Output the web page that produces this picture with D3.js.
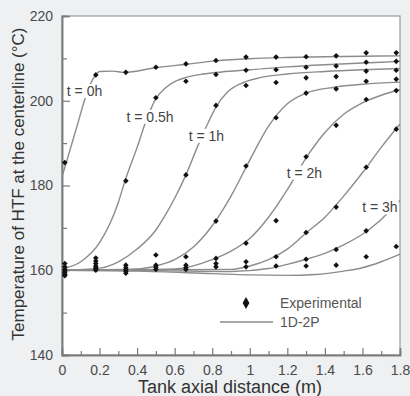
<!DOCTYPE html>
<html>
<head>
<meta charset="utf-8">
<script src="https://cdn.jsdelivr.net/npm/d3@7"></script>
<style>
  body { margin: 0; background: #eef0f2; }
  svg { display: block; font-family: "Liberation Sans", Arial, sans-serif; }
</style>
</head>
<body>
<div id="chart"></div>
<script>
// x positions of the thermocouples (m)
var expX = [0.015, 0.18, 0.34, 0.50, 0.66, 0.82, 0.98, 1.14, 1.30, 1.46, 1.62, 1.78];
// measured temperatures per position (all times together)
var expT = [
  [185.4, 161.6, 160.8, 160.2, 159.8, 159.4, 159.0, 158.7],
  [206.1, 162.9, 162.2, 161.6, 161.0, 160.6, 160.3, 160.0],
  [206.7, 181.1, 161.2, 160.6, 160.1, 159.7, 159.3],
  [207.9, 200.7, 163.6, 161.2, 160.7, 160.2],
  [208.7, 204.6, 182.5, 163.2, 161.2, 160.6, 160.2],
  [209.5, 206.2, 198.9, 171.6, 162.8, 161.6, 160.8],
  [210.3, 207.2, 203.6, 184.6, 166.4, 162.0, 160.8],
  [210.3, 207.3, 204.3, 196.0, 171.7, 163.2, 161.0],
  [210.4, 207.9, 205.4, 201.8, 186.8, 168.9, 162.6, 161.0],
  [210.6, 208.2, 205.7, 202.8, 194.2, 174.9, 164.9, 161.2],
  [211.3, 209.1, 207.0, 204.6, 200.3, 184.3, 169.3, 163.2],
  [211.3, 209.3, 207.2, 205.1, 202.4, 193.3, 165.6]
];

// 1D-2P model curves [x, T]
var model_0h = [[0, 182], [0.03, 186.5], [0.08, 194], [0.13, 201.5], [0.17, 205.5], [0.2, 206.9], [0.27, 207], [0.33, 206.7], [0.5, 207.8], [0.66, 208.6], [0.82, 209.4], [1.0, 209.9], [1.2, 210.2], [1.4, 210.4], [1.6, 210.5], [1.8, 210.6]];
var model_05h = [[0, 160.3], [0.1, 162], [0.2, 166.5], [0.3, 176], [0.335, 181], [0.4, 189], [0.45, 195.5], [0.5, 200.5], [0.55, 203], [0.6, 204.5], [0.66, 205.5], [0.75, 206.3], [0.85, 206.8], [1.0, 207.3], [1.2, 208], [1.4, 208.5], [1.6, 208.9], [1.8, 209.3]];
var model_1h = [[0, 160], [0.2, 160.5], [0.3, 162], [0.4, 165], [0.5, 169.5], [0.55, 173], [0.6, 177], [0.66, 182.5], [0.72, 189], [0.78, 195], [0.82, 198.5], [0.88, 202], [0.95, 204], [1.05, 205.4], [1.2, 206.3], [1.4, 206.9], [1.6, 207.3], [1.8, 207.6]];
var model_15h = [[0, 160], [0.4, 160.3], [0.5, 161], [0.6, 162.5], [0.7, 165.5], [0.8, 170.5], [0.9, 177.5], [1.0, 186], [1.1, 194], [1.2, 199.3], [1.3, 201.8], [1.45, 203.2], [1.6, 203.9], [1.8, 204.4]];
var model_2h = [[0, 160], [0.6, 160.3], [0.8, 162.5], [0.9, 164.5], [1.0, 167.5], [1.1, 172.5], [1.2, 179], [1.3, 186.5], [1.4, 192.5], [1.5, 196.8], [1.6, 199.5], [1.7, 201.3], [1.8, 202.6]];
var model_25h = [[0, 160], [0.9, 160.2], [1.0, 161], [1.1, 162.5], [1.2, 165], [1.3, 168.8], [1.4, 172.5], [1.5, 177.5], [1.6, 183], [1.7, 189], [1.8, 194.5]];
var model_3h = [[0, 160], [0.5, 159.9], [0.9, 159.7], [1.1, 160.4], [1.2, 161.4], [1.3, 162.6], [1.4, 164], [1.5, 166], [1.6, 168.5], [1.7, 172], [1.8, 176.5]];
var model_35h = [[0, 160], [0.4, 159.8], [0.8, 159.2], [1.0, 158.9], [1.2, 158.8], [1.35, 159], [1.5, 159.8], [1.6, 160.6], [1.7, 162], [1.8, 163.8]];
var models = [model_0h, model_05h, model_1h, model_15h, model_2h, model_25h, model_3h, model_35h];

// curve labels (text, x, T of label centre)
var curveLabels = [
  ["t = 0h", 0.12, 202.3],
  ["t = 0.5h", 0.469, 196.2],
  ["t = 1h", 0.769, 191.7],
  ["t = 2h", 1.291, 183.0],
  ["t = 3h", 1.693, 174.8]
];

var xTicks = [0, 0.2, 0.4, 0.6, 0.8, 1, 1.2, 1.4, 1.6, 1.8];
var xMinor = [0.1, 0.3, 0.5, 0.7, 0.9, 1.1, 1.3, 1.5, 1.7];
var yTicks = [140, 160, 180, 200, 220];
var yMinor = [150, 170, 190, 210];

var margin = { top: 16, right: 10, bottom: 41, left: 62 },
  width = 410 - margin.left - margin.right,
  height = 396 - margin.top - margin.bottom;

var svg = d3.select("#chart")
  .append("svg")
  .attr("width", 410)
  .attr("height", 396);

var g = svg.append("g")
  .attr("transform", "translate(" + margin.left + "," + margin.top + ")");

var x = d3.scaleLinear().domain([0, 1.8]).range([0, width]);
var y = d3.scaleLinear().domain([140, 220]).range([height, 0]);

var axisColor = "#7a7a7a";

// plot background + frame
g.append("rect")
  .attr("width", width).attr("height", height)
  .attr("fill", "#fff")
  .attr("stroke", "#9a9a9a").attr("stroke-width", 1.2);

// axes (ticks pointing inwards)
var xAxis = g.append("g")
  .attr("transform", "translate(0," + height + ")")
  .call(d3.axisBottom(x).tickValues(xTicks).tickFormat(d3.format("~g")).tickSize(-7).tickPadding(10));
var xAxisMinor = g.append("g")
  .attr("transform", "translate(0," + height + ")")
  .call(d3.axisBottom(x).tickValues(xMinor).tickFormat("").tickSize(-4));
var yAxis = g.append("g")
  .call(d3.axisLeft(y).tickValues(yTicks).tickSize(-8).tickPadding(9));
var yAxisMinor = g.append("g")
  .call(d3.axisLeft(y).tickValues(yMinor).tickFormat("").tickSize(-5));

[xAxis, xAxisMinor, yAxis, yAxisMinor].forEach(function (a) {
  a.select(".domain").attr("stroke", axisColor).attr("stroke-width", 1.5);
  a.selectAll(".tick line").attr("stroke", axisColor).attr("stroke-width", 1.2);
  a.selectAll("text").attr("fill", "#4a4a4a").style("font-size", "14px")
    .style("font-family", "'Liberation Sans', Arial, sans-serif");
});

// model lines
var line = d3.line()
  .x(function (d) { return x(d[0]); })
  .y(function (d) { return y(d[1]); })
  .curve(d3.curveMonotoneX);

g.append("g").selectAll("path")
  .data(models)
  .enter().append("path")
  .attr("d", line)
  .attr("fill", "none")
  .attr("stroke", "#8c8c8c")
  .attr("stroke-width", 1.4);

// curve labels on white boxes
curveLabels.forEach(function (l) {
  var t = g.append("text")
    .attr("x", x(l[1])).attr("y", y(l[2]))
    .attr("text-anchor", "middle")
    .attr("dy", "0.35em")
    .attr("fill", "#444")
    .style("font-size", "14px")
    .text(l[0]);
  var b = t.node().getBBox();
  g.insert("rect", function () { return t.node(); })
    .attr("x", b.x - 1).attr("y", b.y + 1)
    .attr("width", b.width + 2).attr("height", b.height - 2)
    .attr("fill", "#fff");
});

// experimental points
var pts = [];
expX.forEach(function (xv, i) {
  expT[i].forEach(function (tv) { pts.push([xv, tv]); });
});
var diamond = d3.symbol().type(d3.symbolDiamond2).size(20);
g.append("g").selectAll("path")
  .data(pts)
  .enter().append("path")
  .attr("transform", function (d) { return "translate(" + x(d[0]) + "," + y(d[1]) + ")"; })
  .attr("d", diamond)
  .attr("fill", "#111");

// legend
var legend = g.append("g");
legend.append("path")
  .attr("transform", "translate(" + (246 - margin.left) + "," + (303 - margin.top) + ")")
  .attr("d", d3.symbol().type(d3.symbolDiamond).size(40))
  .attr("fill", "#111");
legend.append("text")
  .attr("x", 280 - margin.left).attr("y", 303 - margin.top).attr("dy", "0.35em")
  .attr("fill", "#555").style("font-size", "14px").text("Experimental");
legend.append("line")
  .attr("x1", 220 - margin.left).attr("x2", 273 - margin.left)
  .attr("y1", 322 - margin.top).attr("y2", 322 - margin.top)
  .attr("stroke", "#8c8c8c").attr("stroke-width", 1.4);
legend.append("text")
  .attr("x", 280 - margin.left).attr("y", 322 - margin.top).attr("dy", "0.35em")
  .attr("fill", "#555").style("font-size", "14px").text("1D-2P");

// axis titles
svg.append("text")
  .attr("x", 230).attr("y", 393)
  .attr("text-anchor", "middle")
  .attr("fill", "#333").style("font-size", "18px")
  .text("Tank axial distance (m)");
svg.append("text")
  .attr("transform", "translate(24,184) rotate(-90)")
  .attr("text-anchor", "middle")
  .attr("fill", "#333").style("font-size", "17px")
  .text("Temperature of HTF at the centerline (°C)");
</script>
</body>
</html>
